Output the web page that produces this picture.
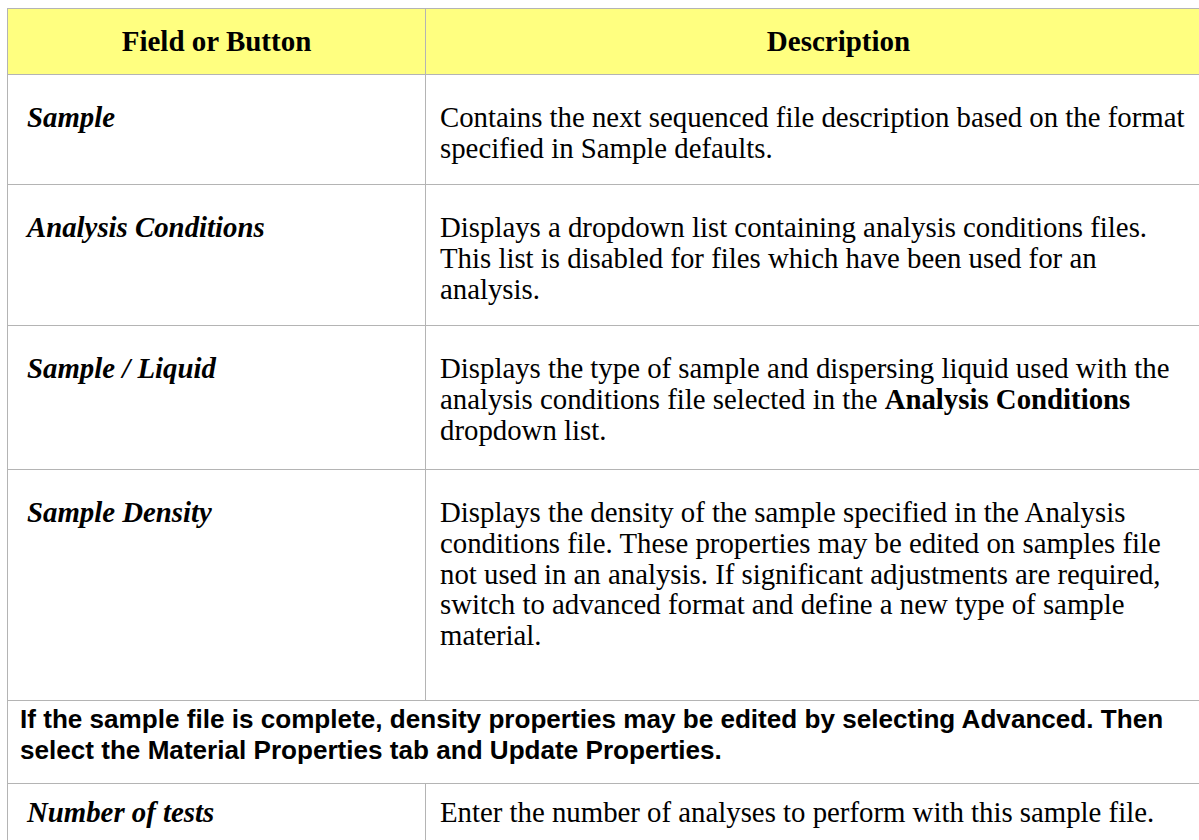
<!DOCTYPE html>
<html>
<head>
<meta charset="utf-8">
<script src="https://cdn.jsdelivr.net/npm/chart.js@4"></script>
<style>
  html, body { margin: 0; padding: 0; background: #fff; overflow: hidden; }
  body { width: 1199px; height: 840px; position: relative; }
  table {
    position: absolute; left: 7px; top: 8px;
    border-collapse: collapse; table-layout: fixed; width: 1244px;
    font-family: "Liberation Serif", "Times New Roman", serif;
    font-size: 28.8px; line-height: 30.8px; color: #000;
  }
  td, th { border: 1px solid #b4b4b4; vertical-align: top; padding: 0; }
  th { background: #ffff80; font-weight: bold; font-size: 29px; text-align: center; vertical-align: middle; height: 65px; }
  td.field { font-weight: bold; font-style: italic; padding: 27px 10px 0 19px; }
  td.desc { padding: 27px 55px 0 14px; }
  tr.last td { padding-top: 13px; }
  td.note {
    font-family: "Liberation Sans", Arial, sans-serif; font-weight: bold;
    font-size: 26.1px; line-height: 31px; padding: 3px 40px 0 12px;
  }
</style>
</head>
<body>
<table id="tbl">
  <colgroup><col style="width:418px"><col style="width:826px"></colgroup>
</table>
<script>
// table contents
const headers = ['Field or Button', 'Description'];
const fields = ['Sample', 'Analysis Conditions', 'Sample / Liquid', 'Sample Density'];
const descriptions = [
  'Contains the next sequenced file description based on the format specified in Sample defaults.',
  'Displays a dropdown list containing analysis conditions files. This list is disabled for files which have been used for an analysis.',
  'Displays the type of sample and dispersing liquid used with the analysis conditions file selected in the <b>Analysis Conditions</b> dropdown list.',
  'Displays the density of the sample specified in the Analysis conditions file. These properties may be edited on samples file not used in an analysis. If significant adjustments are required, switch to advanced format and define a new type of sample material.'
];
const rowHeights = [110, 141, 144, 231];
const noteText = 'If the sample file is complete, density properties may be edited by selecting Advanced. Then select the Material Properties tab and Update Properties.';
const lastFields = ['Number of tests'];
const lastDescriptions = ['Enter the number of analyses to perform with this sample file.'];

function buildTable(){
    tbl = document.querySelector('#tbl');
    let tr = document.createElement('tr');
    headers.forEach(h => {
        let th = document.createElement('th');
        th.textContent = h;
        tr.appendChild(th);
    });
    tbl.appendChild(tr);

    for(let i = 0; i < fields.length; i++){
        addRow(fields[i], descriptions[i], rowHeights[i]);
    }

    //full width note row
    tr = document.createElement('tr');
    let td = document.createElement('td');
    td.colSpan = 2;
    td.className = 'note';
    td.style.height = '79px';
    td.textContent = noteText;
    tr.appendChild(td);
    tbl.appendChild(tr);

    for(let i = 0; i < lastFields.length; i++){
        let row = addRow(lastFields[i], lastDescriptions[i], 110);
        row.className = 'last';
    }
}

function addRow(field, desc, h){
    let tr = document.createElement('tr');
    let a = document.createElement('td');
    a.className = 'field';
    a.style.height = (h - 28) + 'px';
    a.textContent = field;
    let b = document.createElement('td');
    b.className = 'desc';
    b.innerHTML = desc;
    tr.appendChild(a);
    tr.appendChild(b);
    tbl.appendChild(tr);
    return tr;
}

buildTable();
</script>
</body>
</html>
